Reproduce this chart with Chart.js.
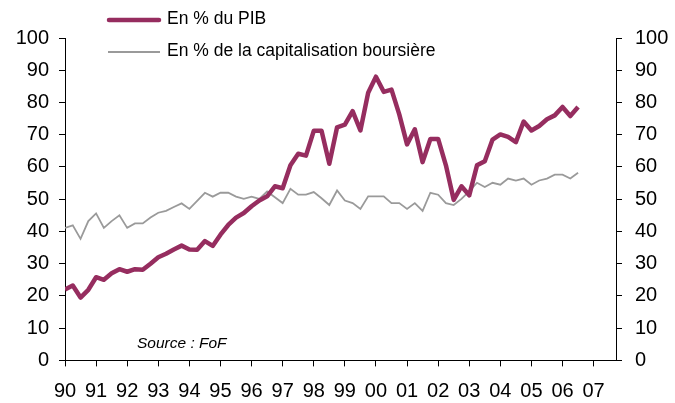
<!DOCTYPE html>
<html>
<head>
<meta charset="utf-8">
<script src="https://cdn.jsdelivr.net/npm/chart.js@4.4.1/dist/chart.umd.min.js"></script>
<style>
  body { margin: 0; background: #fff; }
  canvas { display: block; }
</style>
</head>
<body>
<canvas id="chart" width="675" height="403"></canvas>
<script>
// quarterly series, first point = 1990 Q1
const startYear = 1990;
const yearLabels = ['90','91','92','93','94','95','96','97','98','99','00','01','02','03','04','05','06','07'];

const pibValues = [
  22, 23.2, 19.5, 21.9, 25.8, 25, 27, 28.3, 27.5, 28.3, 28.1, 30, 32, 33.1, 34.4, 35.6,
  34.4, 34.3, 37, 35.5, 39, 42, 44.3, 45.7, 47.8, 49.6, 50.9, 54, 53.4, 60.5, 64.1, 63.5,
  71.2, 71.2, 61, 72.3, 73.1, 77.3, 71.3, 83, 88, 83.3, 84, 76.3, 67, 71.7, 61.5, 68.7,
  68.7, 60.5, 49.8, 54, 51.2, 60.5, 61.8, 68.5, 70.1, 69.3, 67.7, 74.1, 71.3, 72.7,
  74.8, 76, 78.6, 75.8, 78.6
];

const capiValues = [
  41.1, 41.9, 37.7, 43.2, 45.6, 41.1, 43.2, 45, 41.1, 42.5, 42.5, 44.3, 45.8, 46.4, 47.6, 48.7,
  47, 49.5, 52, 50.8, 52, 52, 50.8, 50.1, 50.8, 50.1, 52.4, 50.6, 48.8, 53.2, 51.4, 51.4,
  52.2, 50.3, 48.2, 52.7, 49.6, 48.8, 47, 50.9, 50.9, 50.9, 48.8, 48.8, 47, 48.8, 46.4, 52,
  51.4, 48.8, 48.2, 50.1, 52.4, 55.1, 53.8, 55.1, 54.5, 56.4, 55.8, 56.4, 54.5, 55.8,
  56.4, 57.6, 57.6, 56.4, 58.2
];

const pibColor = '#962d5f';
const capiColor = '#9a9a9a';
const font = '"Liberation Sans", Arial, sans-serif';

function toPoints(values) {
  return values.map((v, i) => ({ x: startYear + i / 4, y: v }));
}

// legend + source note drawn on the canvas
const notes = {
  id: 'notes',
  afterDraw(chart) {
    const ctx = chart.ctx;
    ctx.save();
    ctx.lineCap = 'round';
    ctx.strokeStyle = pibColor;
    ctx.lineWidth = 4.5;
    ctx.beginPath(); ctx.moveTo(109, 20); ctx.lineTo(159, 20); ctx.stroke();
    ctx.strokeStyle = capiColor;
    ctx.lineWidth = 1.8;
    ctx.lineCap = 'butt';
    ctx.beginPath(); ctx.moveTo(108, 52); ctx.lineTo(160, 52); ctx.stroke();

    ctx.fillStyle = '#000';
    ctx.textBaseline = 'middle';
    ctx.font = '17.5px ' + font;
    ctx.fillText('En % du PIB', 167, 19);
    ctx.fillText('En % de la capitalisation boursière', 167, 51);

    ctx.font = 'italic 15.5px ' + font;
    ctx.fillText('Source : FoF', 137, 344);
    ctx.restore();
  }
};

const yTicks = {
  stepSize: 10,
  color: '#000',
  padding: 10,
  font: { family: font, size: 20 }
};

new Chart(document.getElementById('chart'), {
  type: 'line',
  data: {
    datasets: [
      {
        label: 'En % du PIB',
        data: toPoints(pibValues),
        borderColor: pibColor,
        borderWidth: 4.5,
        pointRadius: 0,
        tension: 0,
        borderJoinStyle: 'round'
      },
      {
        label: 'En % de la capitalisation boursière',
        data: toPoints(capiValues),
        borderColor: capiColor,
        borderWidth: 1.8,
        pointRadius: 0,
        tension: 0
      }
    ]
  },
  options: {
    responsive: false,
    animation: false,
    layout: { padding: { top: 38, left: 0, right: 0, bottom: 0 } },
    plugins: { legend: { display: false }, tooltip: { enabled: false } },
    scales: {
      x: {
        type: 'linear',
        min: 1990,
        max: 2007.72,
        afterBuildTicks(scale) {
          scale.ticks = yearLabels.map((l, i) => ({ value: startYear + i }));
        },
        afterFit(scale) { scale.height = 42.6; },
        grid: { drawOnChartArea: false, color: '#000', tickLength: 6 },
        border: { color: '#000' },
        ticks: {
          autoSkip: false,
          maxRotation: 0,
          color: '#000',
          padding: 13,
          font: { family: font, size: 20 },
          callback: v => yearLabels[Math.round(v - startYear)]
        }
      },
      y: {
        position: 'left',
        min: 0,
        max: 100,
        afterFit(scale) { scale.width = 65; },
        grid: { drawOnChartArea: false, color: '#000', tickLength: 6 },
        border: { color: '#000' },
        ticks: yTicks
      },
      y2: {
        position: 'right',
        min: 0,
        max: 100,
        afterFit(scale) { scale.width = 59; },
        grid: { drawOnChartArea: false, color: '#000', tickLength: 6 },
        border: { color: '#000' },
        ticks: Object.assign({}, yTicks, { padding: 13 })
      }
    }
  },
  plugins: [notes]
});
</script>
</body>
</html>
